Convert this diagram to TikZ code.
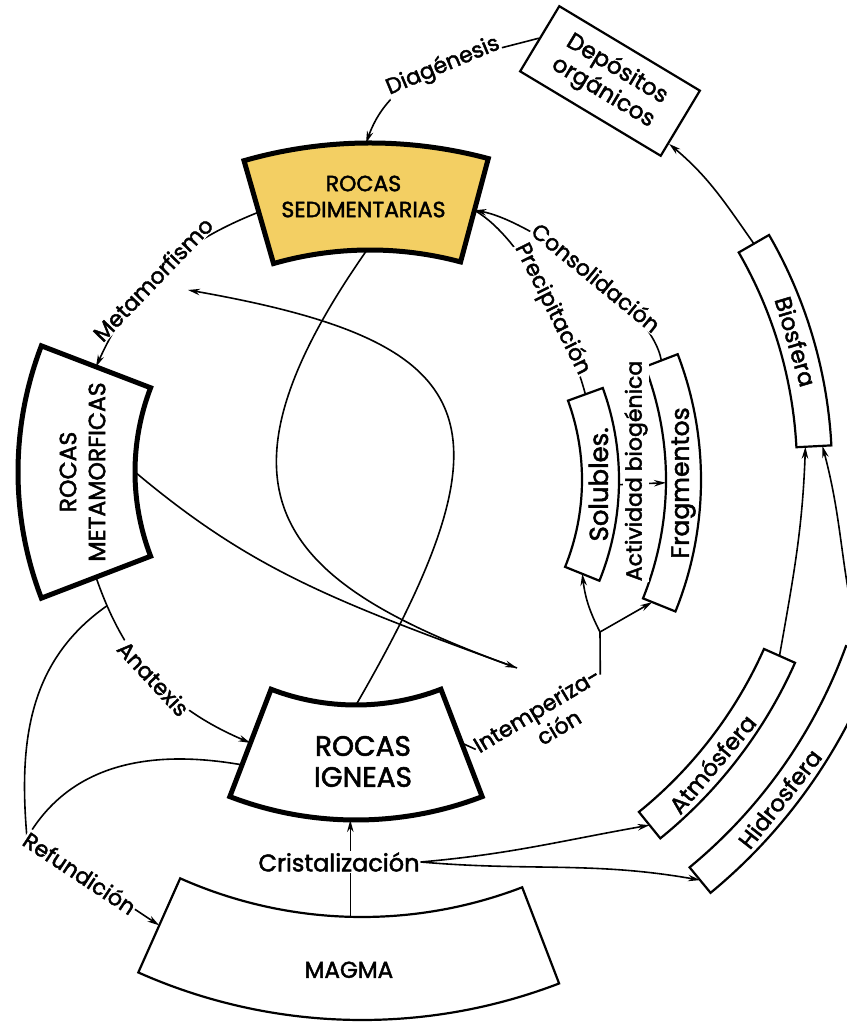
\documentclass[tikz,border=0pt]{standalone}
\usepackage{fontspec}
\setmainfont{Poppins}[UprightFeatures={FakeBold=2}]
\usetikzlibrary{calc,arrows.meta}
\definecolor{sedfill}{RGB}{243,207,99}

\newcommand{\ringbox}[7]{%
  \draw[#7] ($(#2)+(#3:#5)$) arc[start angle=#3, end angle=#4, radius=#5]
    -- ($(#2)+(#4:#6)$) arc[start angle=#4, end angle=#3, radius=#6] -- cycle;
  \coordinate (#1) at ($(#2)+({(#3+#4)/2}:{(#5+#6)/2})$);
  \coordinate (#1-in) at ($(#2)+({(#3+#4)/2}:#5)$);
  \coordinate (#1-out) at ($(#2)+({(#3+#4)/2}:#6)$);
  \coordinate (#1-a) at ($(#2)+(#3:{(#5+#6)/2})$);
  \coordinate (#1-b) at ($(#2)+(#4:{(#5+#6)/2})$);
}

\begin{document}
\begin{tikzpicture}[x=1pt,y=1pt,
  rock/.style={line width=5pt, line join=miter},
  sphere/.style={line width=2.2pt, line join=miter},
  title/.style={font=\fontsize{23}{27}\selectfont, align=center},
  lbl/.style={font=\fontsize{22}{25}\selectfont, fill=white, inner sep=1pt},
  flow/.style={line width=1.6pt},
  >={Stealth[length=12pt,width=6.5pt]}]
\useasboundingbox (0,0) rectangle (846,1022);

\coordinate (c0) at (362,552);
\coordinate (cs) at (370,422);
\coordinate (cm) at (370,550);
\coordinate (ci) at (356,554);
\coordinate (cf) at (350,542);

\ringbox{sed}{cs}{75}{106}{350}{457}{rock, fill=sedfill}
\ringbox{met}{cm}{159}{201}{235}{352}{rock}
\ringbox{ign}{ci}{249}{291}{237}{352}{rock}
\ringbox{mag}{c0}{246}{291}{447}{550}{sphere}
\ringbox{bio}{c0}{3}{30}{435}{470}{sphere}
\ringbox{atm}{c0}{309}{336}{440}{474}{sphere}
\ringbox{hid}{c0}{309.5}{340}{515}{548}{sphere}
\ringbox{sol}{cf}{338}{380}{232}{269}{sphere}
\ringbox{frag}{cf}{338}{381}{316}{351}{sphere}

\node[title, font=\fontsize{22}{26}\selectfont] (sedt) at ($(sed)+(-3,0)$) {ROCAS\\SEDIMENTARIAS};
\node[title, font=\fontsize{23.5}{29}\selectfont, rotate=90] (mett) at ($(met)+(6,0)$) {ROCAS\\METAMORFICAS};
\node[title, font=\fontsize{28}{31}\selectfont] (ignt) at ($(ign)+(7,1)$) {ROCAS\\IGNEAS};
\node[title] (magt) at ($(c0)+(268.5:500)$) {MAGMA};
\node[title, rotate=-73.5] (biot) at (bio) {Biosfera};
\node[title, rotate=50] (atmt) at ($(c0)+(320:457)$) {Atmósfera};
\node[title, rotate=51.8] (hidt) at ($(c0)+(321.8:531.5)$) {Hidrosfera};
\node[title, font=\fontsize{26}{30}\selectfont, rotate=90] (solt) at ($(sol)+(-2,0)$) {Solubles.};
\node[title, font=\fontsize{25}{30}\selectfont, rotate=90] (fragt) at (frag) {Fragmentos};
\node[draw, sphere, title, rotate=-31, minimum width=164pt, minimum height=76pt, inner sep=1pt] (dep) at (610,941) {Depósitos\\orgánicos};

\coordinate (dep-in) at ($(dep.east)!0.6!(dep.south east)$);
\coordinate (ign-a2) at ($(ci)+(249:318)$);
\coordinate (frag-x) at ($(cf)+(338:326)$);
\coordinate (bio-a1) at ($(c0)+(3:444)$);
\coordinate (bio-a2) at ($(c0)+(3:461)$);
\coordinate (ref) at (27,184);
\coordinate (br) at (600,390);
\coordinate (wx) at (517,354);
\coordinate (mx) at (188,732);

\draw[flow,->] (dep.west) to[out=195,in=70] node[lbl, sloped, pos=.45] {Diagénesis} (sed-out);
\draw[flow,->] (sed-b) to[bend right=22] node[lbl, sloped, pos=.55] {Metamorfismo} (met-a);
\draw[flow,->] (met-b) to[bend right=24] coordinate[pos=.12] (anabr) node[lbl, sloped, pos=.5] {Anatexis} (ign-a);
\draw[flow] (anabr) to[out=215,in=95] (ref);
\draw[flow] (ign-a2) to[out=170,in=60] (ref);
\draw[flow,->] (ref) -- node[lbl, sloped, pos=.4] {Refundición} (mag-a);

\node[lbl, rotate=31] (intemp) at (538,310) {Intemperiza-};
\node[lbl, rotate=31] (cion) at ($(intemp)+(-59:23)+(31:10)$) {ción};
\draw[flow] (ign-b) -- (intemp.west);
\draw[flow] (intemp.east) -- (br);
\draw[flow,->] (br) to[bend left=10] (sol-a);
\draw[flow,->] (br) -- (frag-x);

\draw[flow,->] (sed-in) .. controls +(235:300) and +(160:250) .. (wx);
\draw[flow] (met-in) .. controls +(-40:150) and +(160:200) .. (wx);
\draw[flow,->] (ign-in) .. controls +(60:330) and +(-10:300) .. (mx);

\draw[flow,->] (mag-in) -- (mag-in |- ign-out);
\node[lbl, font=\fontsize{24}{27}\selectfont] (cris) at (339,160) {Cristalización};
\draw[flow,->] (cris.east) to[out=5,in=190] (atm-a);
\draw[flow,->] (cris.east) to[out=-5,in=170] (hid-a);

\draw[flow,->] (atm-b) to[out=80,in=-92] (bio-a1);
\draw[flow,->] (hid-b) to[out=105,in=-75] (bio-a2);
\draw[flow,->] (bio-b) to[out=125,in=-40] (dep-in);

\draw[flow,->] (sol-out) -- (frag-in);
\node[lbl, rotate=90] (actb) at (636,551) {Actividad biogénica};

\draw[flow,->] (frag-b) to[out=100,in=-10,looseness=.6] node[lbl, sloped, pos=.45] {Consolidación} (sed-a);
\draw[flow] (sol-b) to[out=105,in=-30,looseness=.7] node[lbl, sloped, pos=.42] {Precipitación} (sed-a);
\end{tikzpicture}
\end{document}
